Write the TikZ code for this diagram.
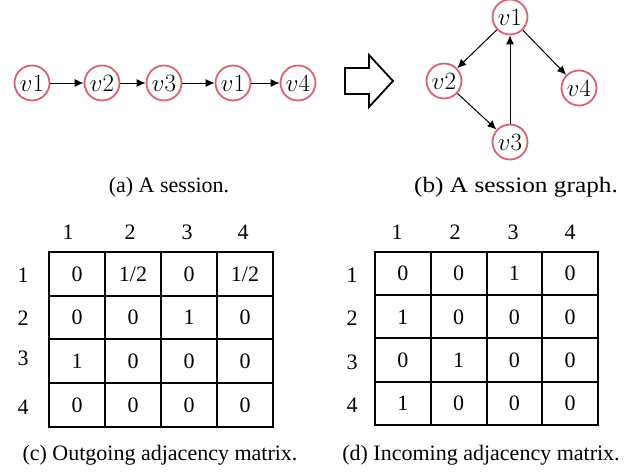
\documentclass[tikz,border=0pt]{standalone}
\usepackage{fontspec}
\setmainfont{Liberation Serif}
\usetikzlibrary{arrows.meta}
\definecolor{nodered}{RGB}{216,98,112}
\begin{document}
\begin{tikzpicture}[x=1pt,y=-1pt,
  vert/.style={circle,draw=nodered,line width=1.8pt,fill=white,minimum size=35pt,inner sep=0pt,
    font=\fontsize{24.88}{28}\selectfont},
  edge/.style={line width=1pt,-{Latex[length=9pt,width=8pt]}},
  gridline/.style={line width=2pt,line cap=rect},
  celltxt/.style={inner sep=0pt,font=\fontsize{22}{24}\selectfont},
  lab/.style={font=\fontsize{22}{24}\selectfont,inner sep=0pt},
  captxt/.style={font=\fontsize{22}{26}\selectfont,inner sep=0pt}]
\useasboundingbox (0,0) rectangle (633,472);
% (a) session chain
\node[vert] (a1) at (32,83) {$v1$};
\node[vert] (a2) at (102,83) {$v2$};
\node[vert] (a3) at (164,83) {$v3$};
\node[vert] (a4) at (233,83) {$v1$};
\node[vert] (a5) at (298,83) {$v4$};
\draw[edge] (a1) -- (a2);
\draw[edge] (a2) -- (a3);
\draw[edge] (a3) -- (a4);
\draw[edge] (a4) -- (a5);
% hollow arrow
\draw[line width=1.8pt,line join=miter] (345,68) -- (369,68) -- (369,55) -- (393,81) -- (369,107) -- (369,94) -- (345,94) -- cycle;
% (b) session graph
\node[vert] (b1) at (510,17) {$v1$};
\node[vert] (b2) at (444,81) {$v2$};
\node[vert] (b3) at (510,142) {$v3$};
\node[vert] (b4) at (579,88) {$v4$};
\draw[edge] (b1) -- (b2);
\draw[edge] (b2) -- (b3);
\draw[edge] (b3) -- (b1);
\draw[edge] (b1) -- (b4);
% captions
\node[captxt] (capa) at (169,187) {(a) A session.};
\node[captxt] (capb) at (516,187) {\scalebox{1.15}[1]{(b) A session graph.}};
\node[captxt] (capc) at (160,455) {(c) Outgoing adjacency matrix.};
\node[captxt] (capd) at (481,455) {(d) Incoming adjacency matrix.};
% (c) outgoing matrix
\foreach \x in {49,105,161,217,273} \draw[gridline] (\x,252) -- (\x,427);
\foreach \y in {252,296,339,383,427} \draw[gridline] (49,\y) -- (273,\y);
\foreach \x [count=\i] in {68,130,187,243} \node[lab] (ch\i) at (\x,232) {\i};
\foreach \y [count=\i] in {275,318,358,407} \node[lab] (rh\i) at (23,\y) {\i};
\foreach \r/\row in {1/{0,1/2,0,1/2},2/{0,0,1,0},3/{1,0,0,0},4/{0,0,0,0}}{
  \foreach \v [count=\c] in \row
    \node[celltxt] (o\r\c) at ({49+56*(\c-0.5)},{252+43.75*(\r-0.5)}) {\v};
}
% (d) incoming matrix
\foreach \x in {375,431,487,542,598} \draw[gridline] (\x,252) -- (\x,425);
\foreach \y in {252,295,338,382,425} \draw[gridline] (375,\y) -- (598,\y);
\foreach \x [count=\i] in {397,455,513,570} \node[lab] (dch\i) at (\x,232) {\i};
\foreach \y [count=\i] in {275,318,362,405} \node[lab] (drh\i) at (352,\y) {\i};
\foreach \r/\row in {1/{0,0,1,0},2/{1,0,0,0},3/{0,1,0,0},4/{1,0,0,0}}{
  \foreach \v [count=\c] in \row
    \node[celltxt] (i\r\c) at ({375+55.75*(\c-0.5)},{252+43.25*(\r-0.5)}) {\v};
}
\end{tikzpicture}
\end{document}
